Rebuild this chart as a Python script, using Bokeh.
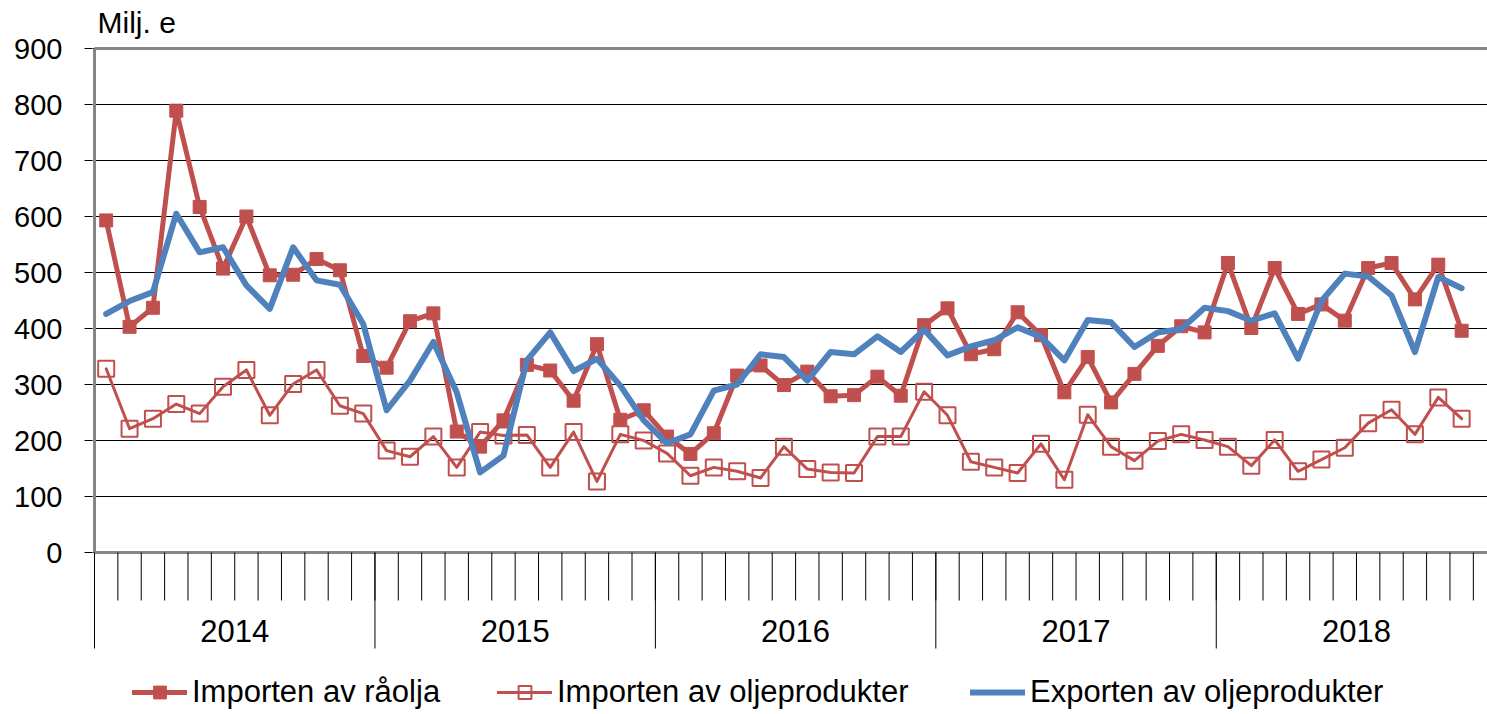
import numpy as np
from bokeh.plotting import figure
from bokeh.models import Range1d, FixedTicker, Legend, LegendItem
from bokeh.core.properties import value
from bokeh.embed import file_html
from bokeh.resources import INLINE

# ---------------- data ----------------
years = ["2014", "2015", "2016", "2017", "2018"]
months_per_year = 12

crude_imports = [593, 403, 437, 789, 617, 507, 600, 495, 496, 524, 504, 351,
                 330, 413, 427, 216, 189, 236, 335, 325, 271, 372, 237, 254,
                 207, 176, 213, 316, 334, 299, 323, 279, 281, 314, 280, 406,
                 436, 354, 363, 429, 388, 286, 349, 268, 319, 369, 404, 393,
                 517, 401, 508, 426, 443, 414, 508, 517, 452, 514, 396]

product_imports = [328, 221, 239, 265, 248, 296, 326, 245, 301, 326, 262, 248,
                   182, 171, 207, 152, 215, 209, 210, 152, 215, 127, 211, 200,
                   177, 137, 152, 145, 133, 189, 149, 143, 142, 207, 207, 287,
                   245, 162, 152, 142, 194, 130, 246, 189, 164, 199, 211, 201,
                   189, 155, 201, 145, 166, 187, 231, 255, 211, 277, 239]

product_exports = [426, 449, 465, 605, 536, 545, 477, 435, 545, 486, 478, 408,
                   254, 307, 376, 286, 143, 173, 343, 393, 324, 346, 298, 236,
                   195, 211, 289, 300, 354, 349, 307, 358, 354, 386, 358, 398,
                   352, 368, 379, 402, 385, 343, 415, 411, 367, 393, 399, 437,
                   431, 414, 427, 346, 449, 498, 493, 459, 358, 492, 472]

y_ticks = [0, 100, 200, 300, 400, 500, 600, 700, 800, 900]
unit_label = "Milj. e"
series_names = ["Importen av råolja", "Importen av oljeprodukter",
                "Exporten av oljeprodukter"]

# ---------------- style ----------------
RED = "#C0504D"
BLUE = "#4F81BD"
GREY = "#868686"
FONT = "Liberation Sans"

W, H = 1487, 714
LEFT = 92
PX_MONTH = 23.37
PX_UNIT = 0.56
TOP_PX = 48            # pixels above the 900 line
X0_PX = 2              # pixels between frame edge and x = 0

y_top = y_ticks[-1] + TOP_PX / PX_UNIT
y_bot = y_top - H / PX_UNIT
x_start = -X0_PX / PX_MONTH
x_end = x_start + (W - LEFT) / PX_MONTH

p = figure(width=W, height=H,
           x_range=Range1d(x_start, x_end), y_range=Range1d(y_bot, y_top),
           output_backend="svg", toolbar_location=None,
           x_axis_location=None,
           min_border_left=LEFT, min_border_right=0,
           min_border_top=0, min_border_bottom=0,
           outline_line_color=None, background_fill_color="white",
           border_fill_color="white")

# y axis
ya = p.yaxis[0]
ya.ticker = FixedTicker(ticks=y_ticks)
ya.axis_line_color = None
ya.major_tick_out = 8
ya.major_tick_in = 0
ya.major_tick_line_color = "black"
ya.minor_tick_line_color = None
ya.major_label_standoff = 22
ya.major_label_text_font = FONT
ya.major_label_text_font_size = "29px"
ya.major_label_text_color = "black"

for g in p.ygrid:
    g.grid_line_color = "black"
    g.grid_line_width = 1
for g in p.xgrid:
    g.visible = False

n_total = len(years) * months_per_year
n = len(crude_imports)
x = np.arange(n) + 0.5

# frame lines
ymax = y_ticks[-1]
p.segment(x0=[0], y0=[0], x1=[n_total], y1=[0], line_color=GREY, line_width=3)
p.segment(x0=[0], y0=[ymax], x1=[n_total], y1=[ymax], line_color=GREY, line_width=3)

# month ticks & year separators
month_b = np.arange(0, n_total + 1)
tick_len = 48 / PX_UNIT
p.segment(x0=month_b, y0=np.zeros(len(month_b)), x1=month_b,
          y1=np.full(len(month_b), -tick_len), line_color="black", line_width=1)
year_b = np.arange(0, n_total + 1, months_per_year)
sep_len = 96 / PX_UNIT
p.segment(x0=year_b, y0=np.zeros(len(year_b)), x1=year_b,
          y1=np.full(len(year_b), -sep_len), line_color="black", line_width=1)

# year labels
year_x = np.arange(len(years)) * months_per_year + months_per_year / 2
p.text(x=year_x, y=np.full(len(years), -78 / PX_UNIT), text=years,
       text_font=value(FONT), text_font_size="31px", text_color="black",
       text_align="center", text_baseline="alphabetic")

# unit label
p.text(x=[3 / PX_MONTH], y=[ymax + 26 / PX_UNIT], text=[unit_label],
       text_font=value(FONT), text_font_size="30px", text_color="black",
       text_align="left", text_baseline="alphabetic")

# data series
r1l = p.line(x, crude_imports, line_color=RED, line_width=5,
             line_join="round", line_cap="round")
r1m = p.scatter(x, crude_imports, marker="square", size=13,
                fill_color=RED, line_color=RED, line_width=1)

r2l = p.line(x, product_imports, line_color=RED, line_width=3,
             line_join="round", line_cap="round")
r2m = p.scatter(x, product_imports, marker="square", size=16,
                fill_color=None, line_color=RED, line_width=2)

r3l = p.line(x, product_exports, line_color=BLUE, line_width=6,
             line_join="round", line_cap="round")

# vertical axis line on top
p.segment(x0=[0], y0=[0], x1=[0], y1=[ymax], line_color=GREY, line_width=3)

# legends
legend_x = [40, 405, 878]
legend_r = [[r1l, r1m], [r2l, r2m], [r3l]]
for name, rs, lx in zip(series_names, legend_r, legend_x):
    lg = Legend(items=[LegendItem(label=name, renderers=rs)],
                location=(lx, 4), orientation="horizontal",
                glyph_width=55, glyph_height=32, label_height=32,
                label_standoff=5, padding=0, margin=0, spacing=0,
                border_line_color=None, background_fill_alpha=0,
                label_text_font=FONT, label_text_font_size="31px",
                label_text_color="black")
    p.add_layout(lg)

open("out.html", "w").write(file_html(p, INLINE))
